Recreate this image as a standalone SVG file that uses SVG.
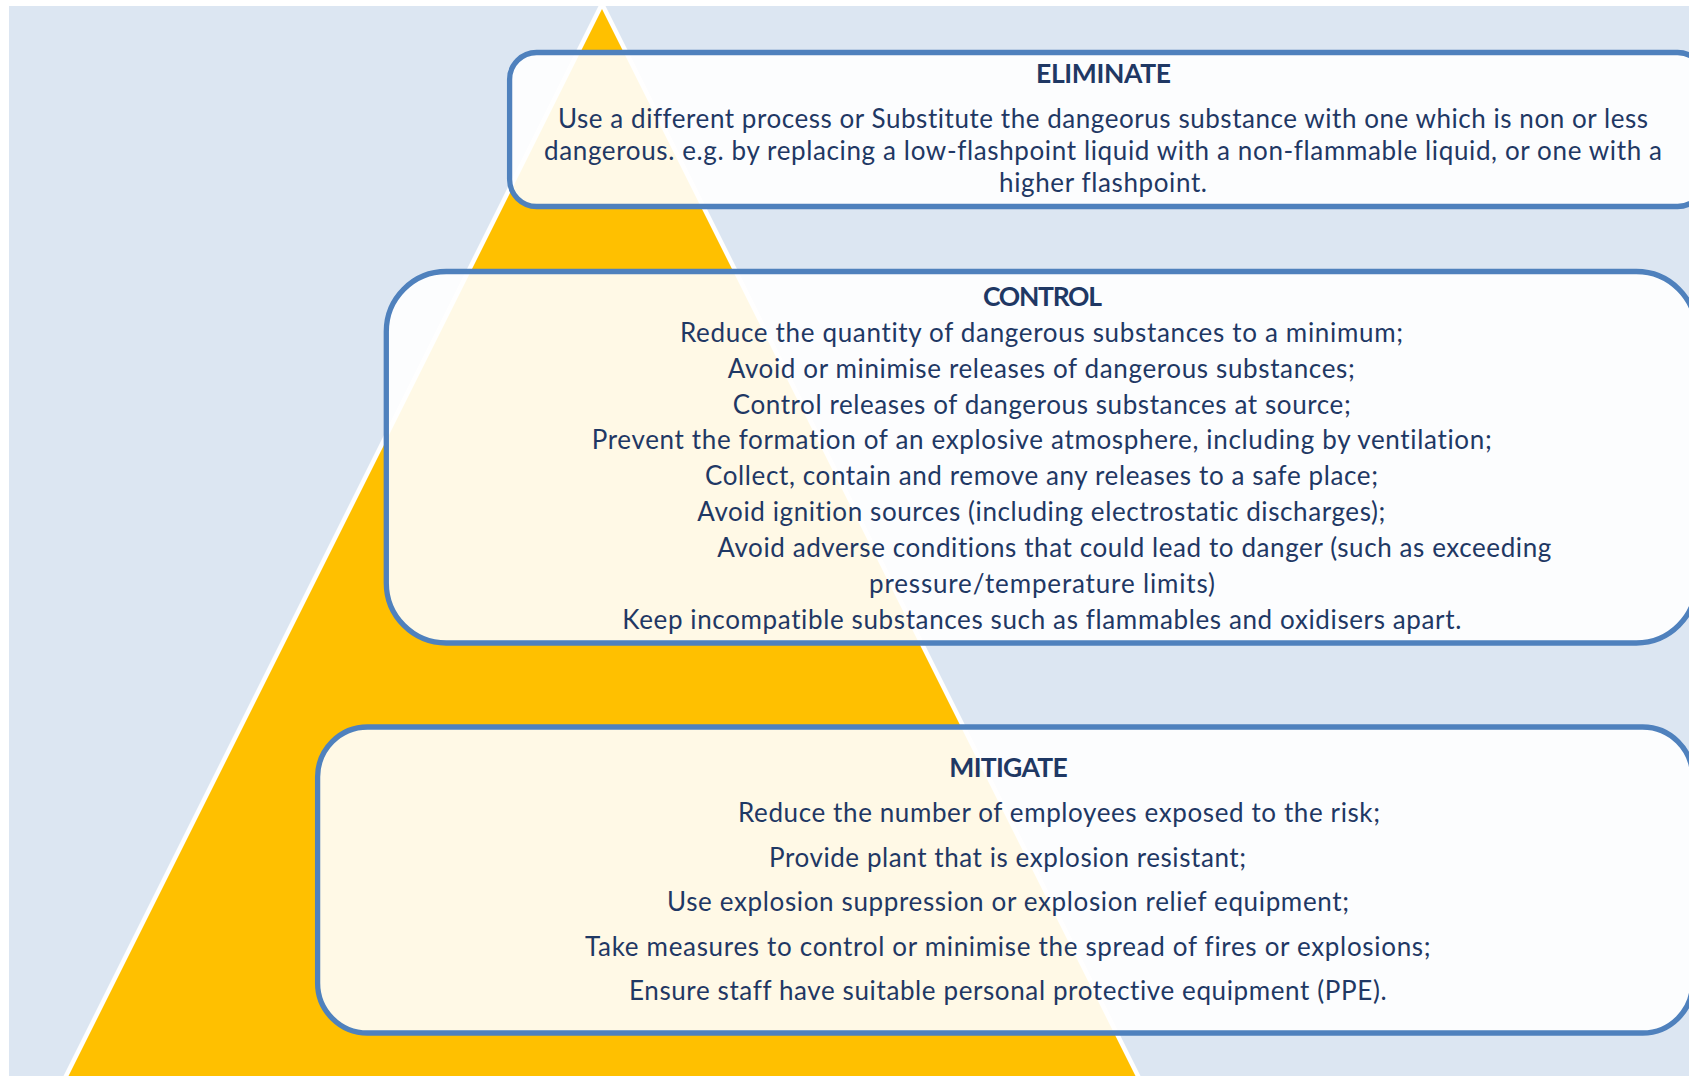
<svg xmlns="http://www.w3.org/2000/svg" width="1689" height="1076" viewBox="0 0 1689 1076">
  <defs>
    <style>
      .panel { fill: #ffffff; fill-opacity: 0.9; stroke: #4f81bd; stroke-width: 5.3; }
      .title { font-family: Lato, "Open Sans", "Liberation Sans", sans-serif; font-weight: 700; font-size: 26.5px; fill: #1f3864; font-variant-ligatures: none; }
      .body { font-family: Lato, "Open Sans", "Liberation Sans", sans-serif; font-size: 26px; fill: #1f3864; font-variant-ligatures: none; }
    </style>
  </defs>

  <!-- page background -->
  <rect x="0" y="0" width="1689" height="1076" fill="#ffffff"/>
  <rect x="9" y="6" width="1680" height="1070" fill="#dce6f2"/>

  <!-- hierarchy pyramid: white rim with yellow body -->
  <g id="pyramid">
    <polygon points="602,-1 61.5,1080 1142.5,1080" fill="#ffffff"/>
    <polygon points="602,9 66.5,1080 1137.5,1080" fill="#ffc000"/>
  </g>

  <g id="eliminate">
    <rect class="panel" x="509.6" y="52.5" width="1195" height="154" rx="27" ry="27"/>
    <text class="title" x="1036" y="83" textLength="135">ELIMINATE</text>
    <text class="body" x="558" y="128" textLength="1090">Use a different process or Substitute the dangeorus substance with one which is non or less</text>
    <text class="body" x="544" y="160" textLength="1118">dangerous. e.g. by replacing a low-flashpoint liquid with a non-flammable liquid, or one with a</text>
    <text class="body" x="999" y="192" textLength="208">higher flashpoint.</text>
  </g>

  <g id="control">
    <rect class="panel" x="386.3" y="271.5" width="1310" height="371.5" rx="60" ry="60"/>
    <text class="title" x="983" y="306" textLength="119">CONTROL</text>
    <text class="body" x="680" y="341.7" textLength="723">Reduce the quantity of dangerous substances to a minimum;</text>
    <text class="body" x="727.7" y="377.6" textLength="627">Avoid or minimise releases of dangerous substances;</text>
    <text class="body" x="732.7" y="413.5" textLength="618">Control releases of dangerous substances at source;</text>
    <text class="body" x="591.7" y="449.4" textLength="900">Prevent the formation of an explosive atmosphere, including by ventilation;</text>
    <text class="body" x="705" y="485.3" textLength="673">Collect, contain and remove any releases to a safe place;</text>
    <text class="body" x="697.3" y="521.2" textLength="688">Avoid ignition sources (including electrostatic discharges);</text>
    <text class="body" x="717.3" y="557.1" textLength="834">Avoid adverse conditions that could lead to danger (such as exceeding</text>
    <text class="body" x="869" y="593" textLength="346">pressure/temperature limits)</text>
    <text class="body" x="622.3" y="628.9" textLength="839">Keep incompatible substances such as flammables and oxidisers apart.</text>
  </g>

  <g id="mitigate">
    <rect class="panel" x="317.6" y="727" width="1375" height="306" rx="50" ry="50"/>
    <text class="title" x="949.3" y="776.7" textLength="118.4">MITIGATE</text>
    <text class="body" x="738" y="822" textLength="642">Reduce the number of employees exposed to the risk;</text>
    <text class="body" x="769" y="866.5" textLength="477">Provide plant that is explosion resistant;</text>
    <text class="body" x="667" y="911" textLength="682">Use explosion suppression or explosion relief equipment;</text>
    <text class="body" x="585" y="955.5" textLength="845.6">Take measures to control or minimise the spread of fires or explosions;</text>
    <text class="body" x="629" y="1000" textLength="757.6">Ensure staff have suitable personal protective equipment (PPE).</text>
  </g>

  <!-- the diagram has no connectors -->
  <g id="connectors"/>
</svg>
